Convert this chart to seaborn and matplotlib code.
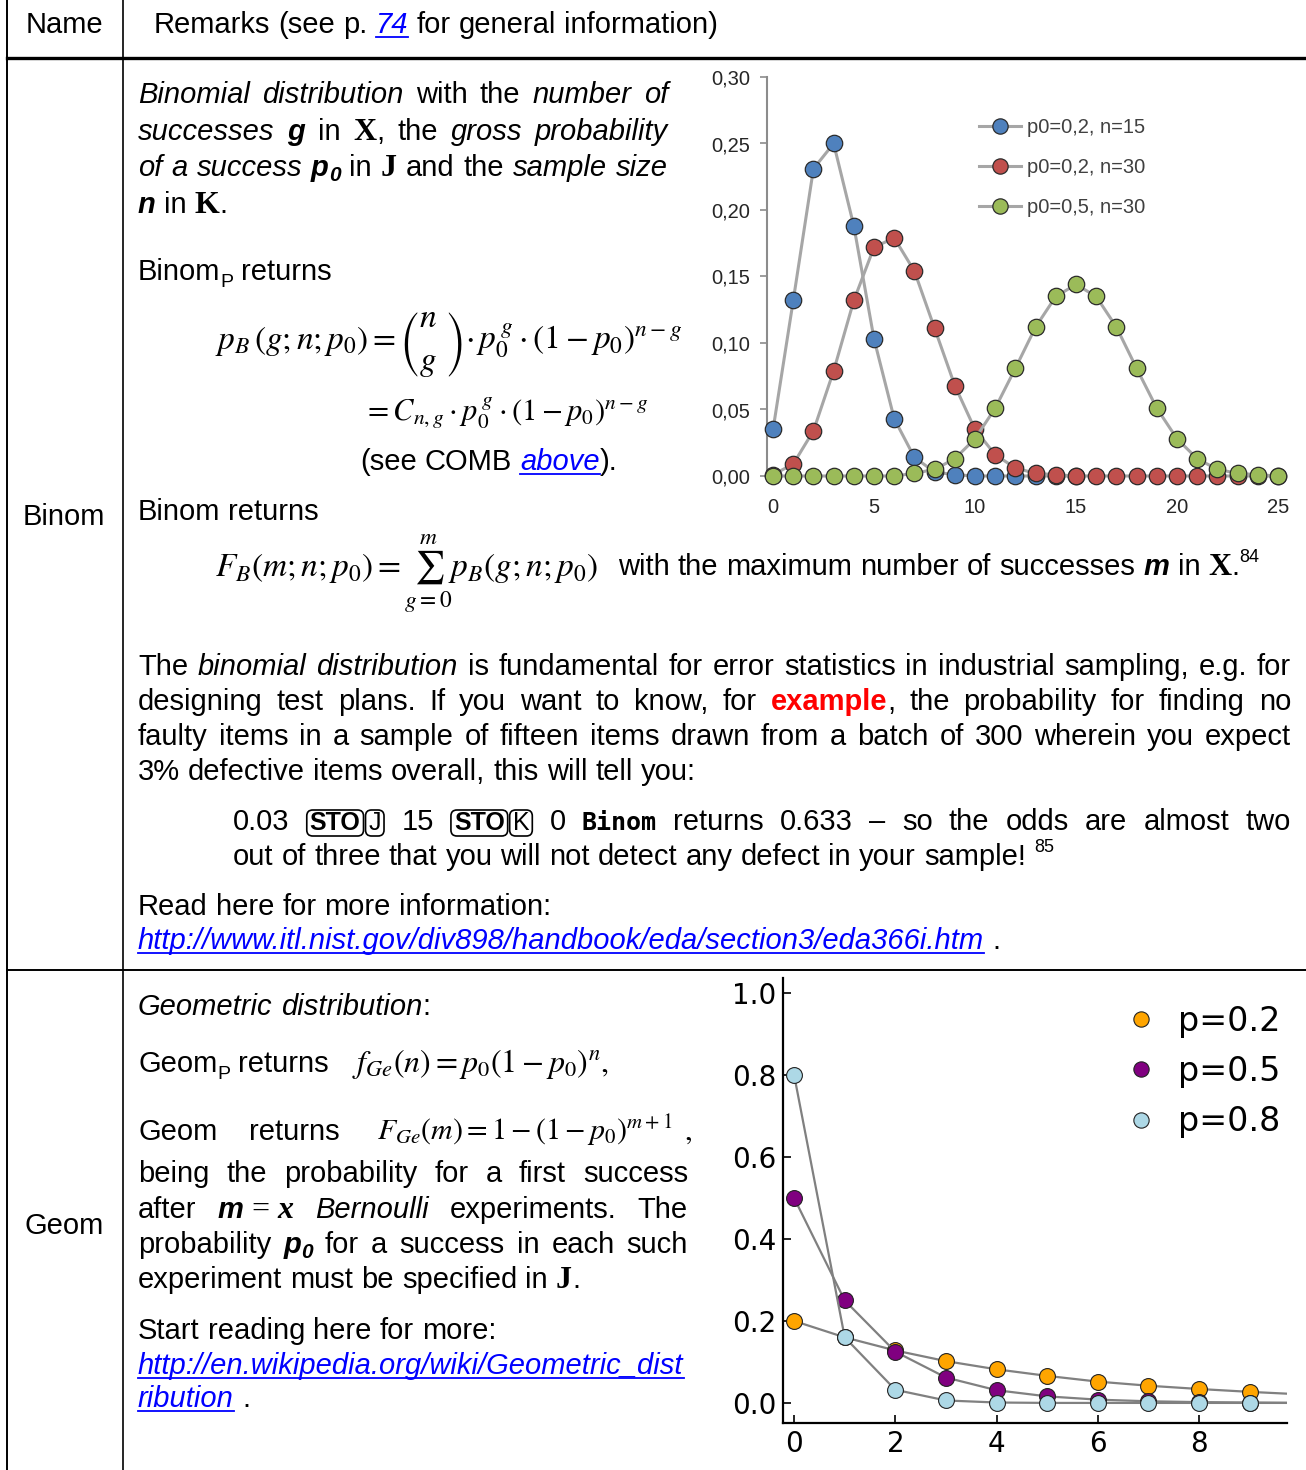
import matplotlib
matplotlib.use("Agg")
import numpy as np
import pandas as pd
import matplotlib.pyplot as plt
import seaborn as sns
from matplotlib.lines import Line2D
from matplotlib.patches import FancyBboxPatch
from matplotlib.ticker import FuncFormatter, FixedLocator

W, H = 1306, 1470

# ---- data ----
binom_k = list(range(26))
binom_p02_n15 = [0.035, 0.132, 0.231, 0.250, 0.188, 0.103, 0.043, 0.014, 0.003, 0.001,
                 0.000, 0.000, 0.000, 0.000, 0.000, 0.000]
binom_p02_n30 = [0.001, 0.009, 0.034, 0.079, 0.132, 0.172, 0.179, 0.154, 0.111, 0.068,
                 0.035, 0.016, 0.006, 0.002, 0.001, 0.000, 0.000, 0.000, 0.000, 0.000,
                 0.000, 0.000, 0.000, 0.000, 0.000, 0.000]
binom_p05_n30 = [0.000, 0.000, 0.000, 0.000, 0.000, 0.000, 0.000, 0.002, 0.005, 0.013,
                 0.028, 0.051, 0.081, 0.112, 0.135, 0.144, 0.135, 0.112, 0.081, 0.051,
                 0.028, 0.013, 0.005, 0.002, 0.001, 0.000]
binom_labels = ["p0=0,2, n=15", "p0=0,2, n=30", "p0=0,5, n=30"]
binom_colors = ["#4f81bd", "#c0504d", "#9bbb59"]

geom_k = list(range(11))
geom_p02 = [0.200, 0.160, 0.128, 0.102, 0.082, 0.066, 0.052, 0.042, 0.034, 0.027, 0.021]
geom_p05 = [0.500, 0.250, 0.125, 0.062, 0.031, 0.016, 0.008, 0.004, 0.002, 0.001, 0.000]
geom_p08 = [0.800, 0.160, 0.032, 0.006, 0.001, 0.000, 0.000, 0.000, 0.000, 0.000, 0.000]
geom_labels = ["p=0.2", "p=0.5", "p=0.8"]
geom_colors = ["orange", "purple", "lightblue"]

plt.rcParams["mathtext.fontset"] = "stix"

fig = plt.figure(figsize=(W / 100, H / 100), dpi=100)
bg = fig.add_axes([0, 0, 1, 1])
bg.set_xlim(0, W)
bg.set_ylim(H, 0)
bg.axis("off")
renderer = fig.canvas.get_renderer()

SANS = "Liberation Sans"
SERIF = "Liberation Serif"
FS = 21
SPACE = 0.278 * FS * 100 / 72

STY = {
    "n": dict(kw={}),
    "i": dict(kw=dict(style="italic")),
    "bi": dict(kw=dict(weight="bold", style="italic")),
    "sub": dict(kw=dict(size=14), dy=7),
    "subbi": dict(kw=dict(size=15, weight="bold", style="italic"), dy=5),
    "sup": dict(kw=dict(size=13), dy=-13),
    "X": dict(kw=dict(family=SERIF, weight="bold", size=23)),
    "red": dict(kw=dict(weight="bold", color="#ff0000")),
    "link": dict(kw=dict(style="italic", color="#0000ff"), underline=True),
    "eq": dict(kw=dict(family=SERIF, size=23)),
    "xs": dict(kw=dict(family=SERIF, weight="bold", style="italic", size=23)),
    "key": dict(kw=dict(weight="bold", size=18), pad=4, box=True),
    "keyn": dict(kw=dict(size=18), pad=4, box=True),
    "mono": dict(kw=dict(family="DejaVu Sans Mono", weight="bold", size=18)),
}


def text_kw(st):
    kw = dict(family=SANS, size=FS, color="black")
    kw.update(STY[st]["kw"])
    return kw


def measure(text, st):
    t = bg.text(0, 0, text, **text_kw(st))
    w = t.get_window_extent(renderer).width
    t.remove()
    return w + 2 * STY[st].get("pad", 0)


def put(text, st, x, y):
    cfg = STY[st]
    kw = text_kw(st)
    pad = cfg.get("pad", 0)
    t = bg.text(x + pad, y + cfg.get("dy", 0), text, va="baseline", ha="left", **kw)
    w = t.get_window_extent(renderer).width
    if cfg.get("underline"):
        bg.plot([x, x + w], [y + 4, y + 4], color=kw["color"], lw=1.3)
    if cfg.get("box"):
        bg.add_patch(FancyBboxPatch((x + 1, y - 20), w + 2 * pad - 2, 26,
                                    boxstyle="round,pad=0,rounding_size=6",
                                    fc="none", ec="black", lw=1.2))
    return w + 2 * pad


def split_words(runs):
    words = [[]]
    for text, st in runs:
        parts = text.split(" ")
        for i, p in enumerate(parts):
            if i > 0:
                words.append([])
            if p:
                words[-1].append((p, st))
    return [w for w in words if w]


def line(x, y, runs, width=None):
    words = split_words(runs)
    widths = [[measure(t, s) for t, s in w] for w in words]
    totals = [sum(ws) for ws in widths]
    gap = SPACE
    if width and len(words) > 1:
        gap = (width - sum(totals)) / (len(words) - 1)
    cx = x
    for w, ws in zip(words, widths):
        for (t, s), pw in zip(w, ws):
            put(t, s, cx, y)
            cx += pw
        cx += gap


def math(x, y, s, size=23, alt=None, alt_size=None):
    t = bg.text(x, y, s, fontsize=size, va="baseline", ha="left", color="black")
    try:
        t.get_window_extent(renderer)
    except Exception:
        t.set_text(alt)
        if alt_size:
            t.set_fontsize(alt_size)
    return t


def right_of(t):
    return t.get_window_extent(renderer).x1


# ---- table grid ----
bg.plot([7, 7], [0, H], color="black", lw=1.4)
bg.plot([123, 123], [0, H], color="black", lw=1.2)
bg.plot([7, W], [58, 58], color="black", lw=2.4)
bg.plot([7, W], [970, 970], color="black", lw=1.4)

# ---- header ----
bg.text(64, 33, "Name", ha="center", va="baseline", family=SANS, size=FS)
line(154, 33, [("Remarks (see p. ", "n"), ("74", "link"), (" for general information)", "n")])
bg.text(64, 525, "Binom", ha="center", va="baseline", family=SANS, size=FS)
bg.text(64, 1234, "Geom", ha="center", va="baseline", family=SANS, size=FS)

# ---- Binom ----
line(138, 103, [("Binomial distribution", "i"), (" with the ", "n"), ("number of", "i")], 530)
line(138, 140, [("successes", "i"), (" ", "n"), ("g", "bi"), (" in ", "n"), ("X", "X"),
                (", the ", "n"), ("gross probability", "i")], 530)
line(138, 176, [("of a success ", "i"), ("p", "bi"), ("0", "subbi"), (" in ", "n"), ("J", "X"),
                (" and the ", "n"), ("sample size", "i")], 530)
line(138, 213, [("n", "bi"), (" in ", "n"), ("K", "X"), (".", "n")])
line(138, 280, [("Binom", "n"), ("P", "sub"), (" returns", "n")])
fa = math(215, 349, r"$p_B\,(g;n;p_0) =$", 24)
fb = math(right_of(fa) + 3, 349,
          r"$\genfrac{(}{)}{0}{0}{\genfrac{}{}{0}{0}{n}{\ }}{\genfrac{}{}{0}{0}{\ }{g}}$", 24,
          alt=r"$\genfrac{(}{)}{0}{0}{n}{\genfrac{}{}{0}{0}{\ }{g}}$")
math(right_of(fb) + 2, 349, r"$\cdot\, p_0^{\,g} \cdot (1-p_0)^{n-g}$", 24)
math(363, 421, r"$= C_{n,g} \cdot p_0^{\,g} \cdot (1-p_0)^{n-g}$", 22)
line(360, 470, [("(see COMB ", "n"), ("above", "link"), (").", "n")])
line(138, 520, [("Binom returns", "n")])
math(215, 577, r"$F_B(m;n;p_0) = \sum_{g=0}^{m} p_B(g;n;p_0)$", 24)
line(618, 575, [("with the maximum number of successes ", "n"), ("m", "bi"), (" in ", "n"),
                ("X", "X"), (".", "n"), ("84", "sup")])

line(138, 675, [("The ", "n"), ("binomial distribution", "i"),
                (" is fundamental for error statistics in industrial sampling, e.g. for", "n")], 1153)
line(138, 710, [("designing test plans. If you want to know, for ", "n"), ("example", "red"),
                (", the probability for finding no", "n")], 1153)
line(138, 745, [("faulty items in a sample of fifteen items drawn from a batch of 300 wherein you expect", "n")], 1153)
line(138, 780, [("3% defective items overall, this will tell you:", "n")])
line(233, 830, [("0.03 ", "n"), ("STO", "key"), ("J", "keyn"), (" 15 ", "n"), ("STO", "key"), ("K", "keyn"),
                (" 0 ", "n"), ("Binom", "mono"),
                (" returns 0.633 \u2013 so the odds are almost two", "n")], 1058)
line(233, 865, [("out of three that you will not detect any defect in your sample! ", "n"), ("85", "sup")])
line(138, 915, [("Read here for more information:", "n")])
line(138, 949, [("http://www.itl.nist.gov/div898/handbook/eda/section3/eda366i.htm", "link"), (" .", "n")])

# ---- Geom ----
line(138, 1015, [("Geometric distribution", "i"), (":", "n")])
line(138, 1072, [("Geom", "n"), ("P", "sub"), (" returns", "n")])
math(352, 1072, r"$f_{Ge}(n) = p_0(1-p_0)^n,$", 23)
line(138, 1140, [("Geom", "n")])
line(249, 1140, [("returns", "n")])
math(377, 1140, r"$F_{Ge}(m) = 1-(1-p_0)^{m+1}$", 21.5)
math(684, 1140, r"$,$", 22)
line(138, 1182, [("being the probability for a first success", "n")], 550)
line(138, 1218, [("after ", "n"), ("m", "bi"), ("\u00a0=\u00a0", "eq"), ("x", "xs"),
                 (" Bernoulli", "i"), (" experiments. The", "n")], 550)
line(138, 1253, [("probability ", "n"), ("p", "bi"), ("0", "subbi"),
                 (" for a success in each such", "n")], 550)
line(138, 1288, [("experiment must be specified in ", "n"), ("J", "X"), (".", "n")])
line(138, 1339, [("Start reading here for more:", "n")])
line(138, 1374, [("http://en.wikipedia.org/wiki/Geometric_dist", "link")])
line(138, 1407, [("ribution", "link"), (" .", "n")])


def px_axes(x0, y0, x1, y1):
    ax = fig.add_axes([x0 / W, 1 - y1 / H, (x1 - x0) / W, (y1 - y0) / H])
    ax.patch.set_alpha(0)
    return ax


# ---- binomial chart ----
ax1 = px_axes(767, 77, 1284, 476)
binom_series = [binom_p02_n15, binom_p02_n30, binom_p05_n30]
for i, (lab, col, ys) in enumerate(zip(binom_labels, binom_colors, binom_series)):
    df = pd.DataFrame({"k": binom_k[:len(ys)], "p": ys})
    sns.lineplot(data=df, x="k", y="p", ax=ax1, color="#a6a6a6", lw=2.2, sort=False,
                 estimator=None, clip_on=False, zorder=3 + 2 * i)
    sns.scatterplot(data=df, x="k", y="p", ax=ax1, color=col, edgecolor="#2b2b2b",
                    linewidth=0.9, s=140, clip_on=False, zorder=4 + 2 * i, legend=False)
ax1.set_xlim(-0.3, 25.3)
ax1.set_ylim(0, 0.30)
for s in ["top", "right", "bottom"]:
    ax1.spines[s].set_visible(False)
ax1.spines["left"].set_color("#8c8c8c")
ax1.spines["left"].set_linewidth(1.5)
ax1.xaxis.set_major_locator(FixedLocator([0, 5, 10, 15, 20, 25]))
ax1.yaxis.set_major_locator(FixedLocator([0, 0.05, 0.10, 0.15, 0.20, 0.25, 0.30]))
ax1.yaxis.set_major_formatter(FuncFormatter(lambda v, _: f"{v:.2f}".replace(".", ",")))
ax1.tick_params(axis="y", direction="out", length=5, width=1.2, color="#8c8c8c",
                labelsize=14.5, pad=7, labelcolor="#262626")
ax1.tick_params(axis="x", length=0, labelsize=14.5, pad=16, labelcolor="#262626")
for lbl in ax1.get_xticklabels() + ax1.get_yticklabels():
    lbl.set_family(SANS)
ax1.set_xlabel("")
ax1.set_ylabel("")
handles1 = [Line2D([0], [0], color="#a6a6a6", lw=2.2, marker="o", mfc=c, mec="#2b2b2b",
                   mew=0.9, ms=11) for c in binom_colors]
leg1 = ax1.legend(handles1, binom_labels, loc="upper left", bbox_to_anchor=(0.41, 0.897),
                  frameon=False, prop=dict(family=SANS, size=14.5), handlelength=2.1,
                  handletextpad=0.3, labelspacing=1.05, borderpad=0, borderaxespad=0)
for t in leg1.get_texts():
    t.set_color("#404040")

# ---- geometric chart ----
ax2 = px_axes(783, 978, 1287, 1423)
geom_series = [geom_p02, geom_p05, geom_p08]
for i, (lab, col, ys) in enumerate(zip(geom_labels, geom_colors, geom_series)):
    df = pd.DataFrame({"k": geom_k, "p": ys})
    sns.lineplot(data=df, x="k", y="p", ax=ax2, color="#808080", lw=1.6, sort=False,
                 estimator=None, zorder=3 + 2 * i)
    sns.scatterplot(data=df, x="k", y="p", ax=ax2, color=col, edgecolor="#222222",
                    linewidth=0.8, s=130, zorder=4 + 2 * i, legend=False)
ax2.set_xlim(-0.22, 9.74)
ax2.set_ylim(-0.049, 1.037)
for s in ["top", "right"]:
    ax2.spines[s].set_visible(False)
for s in ["left", "bottom"]:
    ax2.spines[s].set_linewidth(1.6)
ax2.xaxis.set_major_locator(FixedLocator([0, 2, 4, 6, 8]))
ax2.yaxis.set_major_locator(FixedLocator([0, 0.2, 0.4, 0.6, 0.8, 1.0]))
ax2.yaxis.set_major_formatter(FuncFormatter(lambda v, _: f"{v:.1f}"))
ax2.tick_params(direction="in", length=6, width=1.2, labelsize=20, pad=5)
for lbl in ax2.get_xticklabels() + ax2.get_yticklabels():
    lbl.set_family("DejaVu Sans")
ax2.set_xlabel("")
ax2.set_ylabel("")
handles2 = [Line2D([0], [0], ls="none", marker="o", mfc=c, mec="#222222", mew=0.8, ms=11)
            for c in geom_colors]
leg2 = ax2.legend(handles2, geom_labels, loc="upper left", bbox_to_anchor=(0.677, 0.94),
                  frameon=False, prop=dict(family="DejaVu Sans", size=24), handlelength=1.0,
                  handletextpad=0.6, labelspacing=0.52, borderpad=0, borderaxespad=0)

fig.savefig("out.png", dpi=100)
